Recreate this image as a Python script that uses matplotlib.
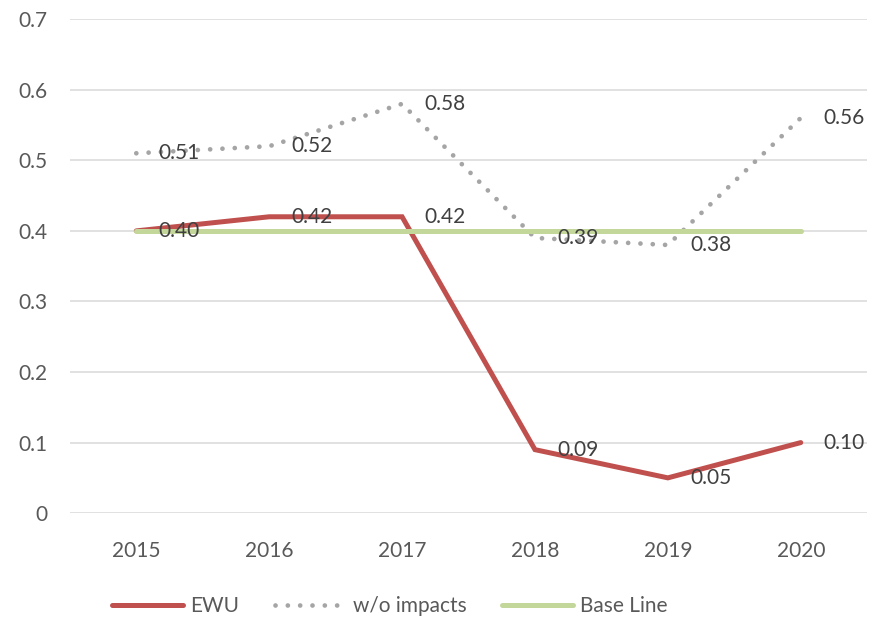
import matplotlib.pyplot as plt

# chart data
years = ["2015", "2016", "2017", "2018", "2019", "2020"]
ewu = [0.40, 0.42, 0.42, 0.09, 0.05, 0.10]
no_impacts = [0.51, 0.52, 0.58, 0.39, 0.38, 0.56]
base_line = [0.40, 0.40, 0.40, 0.40, 0.40, 0.40]

plt.rcParams["font.family"] = ["Lato", "DejaVu Sans"]
txt = "#404040"

fig = plt.figure(figsize=(8.84, 6.19), dpi=100)
ax = fig.add_axes([0.079, 0.171, 0.902, 0.798])

x = list(range(len(years)))
ax.plot(x, ewu, color="#C0504D", lw=3.6, solid_capstyle="round",
        solid_joinstyle="miter", label="EWU", zorder=3)
ax.plot(x, no_impacts, color="#A5A5A5", lw=3.4, linestyle=(0, (0.01, 2.6)),
        dash_capstyle="round", label="w/o impacts", zorder=3)
ax.plot(x, base_line, color="#C4D79B", lw=3.6, solid_capstyle="round",
        label="Base Line", zorder=3)

# data labels to the right of the points
for series in (ewu, no_impacts):
    for xi, v in zip(x, series):
        ax.annotate(f"{v:.2f}", (xi, v), xytext=(16, 0), textcoords="offset points",
                    ha="left", va="center", fontsize=15, color=txt, zorder=5)

ax.set_xlim(-0.5, len(years) - 0.5)
ax.set_ylim(0, 0.7)
ax.set_xticks(x)
ax.set_xticklabels(years)
ax.set_yticks([0, 0.1, 0.2, 0.3, 0.4, 0.5, 0.6, 0.7])
ax.set_yticklabels(["0", "0.1", "0.2", "0.3", "0.4", "0.5", "0.6", "0.7"])
ax.tick_params(length=0, labelsize=15, colors="#595959")
ax.tick_params(axis="x", pad=20)
ax.tick_params(axis="y", pad=16)
ax.grid(axis="y", color="#D9D9D9", lw=1.1, zorder=0)
ax.set_axisbelow(True)
for s in ax.spines.values():
    s.set_visible(False)

fig.legend(loc="center", bbox_to_anchor=(0.441, 0.021), ncol=3, frameon=False,
           fontsize=15, labelcolor="#595959", handlelength=3.4, handletextpad=0.35,
           columnspacing=1.7)

fig.savefig("out.png", dpi=100)
